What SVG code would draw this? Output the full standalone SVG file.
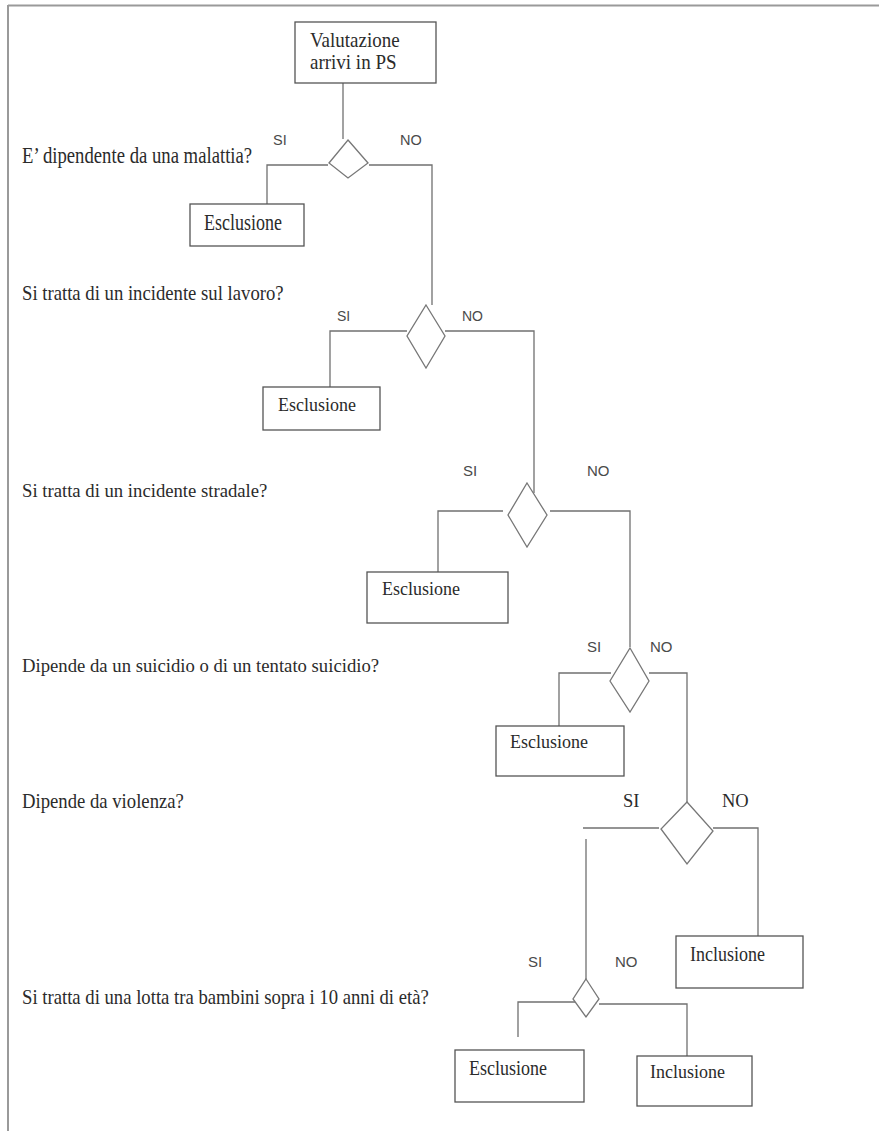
<svg xmlns="http://www.w3.org/2000/svg" width="879" height="1131" viewBox="0 0 879 1131">
<style>
.frame{stroke:#9a9a9a;stroke-width:2;fill:none}
.ln{stroke:#707070;stroke-width:1.3;fill:none}
.box{fill:#fff;stroke:#555;stroke-width:1.3}
.dia{fill:#fff;stroke:#777;stroke-width:1.3}
.serif{font-family:"Liberation Serif","Times New Roman",serif;fill:#2b2b2b}
.q{font-size:18.7px}
.bt{font-size:18px}
.sans{font-family:"Liberation Sans",Arial,sans-serif;fill:#4a4a4a}
</style>
<rect width="879" height="1131" fill="#fff"/>
<g id="frame">
<line class="frame" x1="8" y1="5.5" x2="879" y2="5.5"/>
<line class="frame" x1="8" y1="5" x2="8" y2="1131"/>
</g>
<g id="questions">
<text class="serif q" transform="translate(22,163) scale(1,1.26)">E’ dipendente da una malattia?</text>
<text class="serif q" transform="translate(22,300) scale(1,1.15)">Si tratta di un incidente sul lavoro?</text>
<text class="serif q" transform="translate(22,497) scale(1,1.05)">Si tratta di un incidente stradale?</text>
<text class="serif q" transform="translate(22,672) scale(1,1)">Dipende da un suicidio o di un tentato suicidio?</text>
<text class="serif q" transform="translate(22,808) scale(1,1.1)">Dipende da violenza?</text>
<text class="serif q" transform="translate(22,1004) scale(1,1.1)">Si tratta di una lotta tra bambini sopra i 10 anni di età?</text>
</g>
<g id="connectors">
<line class="ln" x1="343" y1="83" x2="343" y2="139"/>
<polyline class="ln" points="328,165 267,165 267,204"/>
<polyline class="ln" points="369,165 432,165 432,305"/>
<polyline class="ln" points="407,331 330,331 330,387"/>
<polyline class="ln" points="445,331 534,331 534,493"/>
<polyline class="ln" points="503,511 438,511 438,572"/>
<polyline class="ln" points="550,511 630,511 630,647"/>
<polyline class="ln" points="611,673 559,673 559,726"/>
<polyline class="ln" points="649,673 687,673 687,802"/>
<line class="ln" x1="583" y1="828" x2="659" y2="828"/>
<line class="ln" x1="586" y1="839" x2="586" y2="979"/>
<polyline class="ln" points="713,828 758,828 758,936"/>
<polyline class="ln" points="599,1004 687,1004 687,1056"/>
<polyline class="ln" points="584,1002 518,1002 518,1037"/>
</g>
<g id="start">
<rect class="box" x="295" y="22" width="141" height="61"/>
<text class="serif" font-size="19" transform="translate(310,47) scale(1,1.08)">Valutazione</text>
<text class="serif" font-size="19" transform="translate(310,69) scale(1,1.08)">arrivi in PS</text>
</g>
<g id="d1">
<polygon class="dia" points="348,140 368,163 348,178 329,163"/>
<text class="sans" font-size="14.5" x="273" y="145">SI</text>
<text class="sans" font-size="14.5" x="400" y="145">NO</text>
</g>
<g id="e1">
<rect class="box" x="190" y="204" width="114" height="42"/>
<text class="serif bt" transform="translate(204,230) scale(1,1.26)">Esclusione</text>
</g>
<g id="d2">
<polygon class="dia" points="426,305 445,336 426,368 407,336"/>
<text class="sans" font-size="14" x="337" y="321">SI</text>
<text class="sans" font-size="14" x="462" y="321">NO</text>
</g>
<g id="e2">
<rect class="box" x="263" y="387" width="117" height="43"/>
<text class="serif bt" transform="translate(278,411) scale(1,1.07)">Esclusione</text>
</g>
<g id="d3">
<polygon class="dia" points="527,483 547,515 527,547 508,515"/>
<text class="sans" font-size="15" x="463" y="476">SI</text>
<text class="sans" font-size="15" x="587" y="476">NO</text>
</g>
<g id="e3">
<rect class="box" x="367" y="572" width="141" height="51"/>
<text class="serif bt" transform="translate(382,595) scale(1,1.03)">Esclusione</text>
</g>
<g id="d4">
<polygon class="dia" points="630,648 649,681 630,712 610,681"/>
<text class="sans" font-size="15" x="587" y="652">SI</text>
<text class="sans" font-size="15" x="650" y="652">NO</text>
</g>
<g id="e4">
<rect class="box" x="496" y="726" width="128" height="50"/>
<text class="serif bt" transform="translate(510,748) scale(1,1.07)">Esclusione</text>
</g>
<g id="d5">
<polygon class="dia" points="687,802 713,831 687,864 661,829"/>
<text class="serif" font-size="18.5" x="623" y="807">SI</text>
<text class="serif" font-size="18.5" x="722" y="807">NO</text>
</g>
<g id="i1">
<rect class="box" x="676" y="936" width="127" height="52"/>
<text class="serif bt" transform="translate(690,961) scale(1,1.18)">Inclusione</text>
</g>
<g id="d6">
<polygon class="dia" points="586,979 599,999 586,1017 573,999"/>
<text class="sans" font-size="15" x="528" y="967">SI</text>
<text class="sans" font-size="15" x="615" y="967">NO</text>
</g>
<g id="e5">
<rect class="box" x="455" y="1050" width="129" height="52"/>
<text class="serif bt" transform="translate(469,1075) scale(1,1.18)">Esclusione</text>
</g>
<g id="i2">
<rect class="box" x="637" y="1056" width="115" height="50"/>
<text class="serif bt" transform="translate(650,1078) scale(1,1.1)">Inclusione</text>
</g>
</svg>
